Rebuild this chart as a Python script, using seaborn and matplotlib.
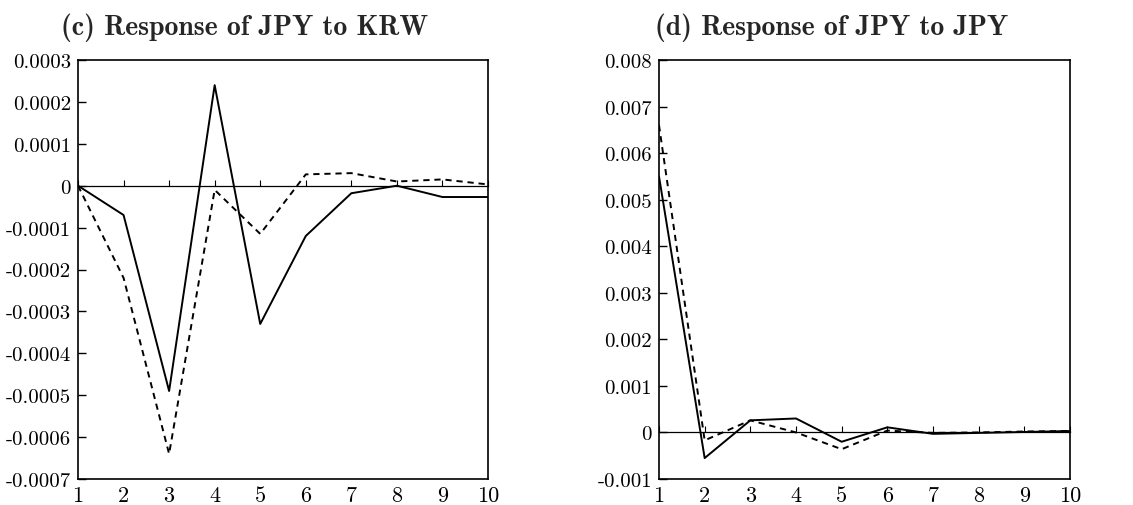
import numpy as np
import pandas as pd
import matplotlib
matplotlib.use("Agg")
import matplotlib.pyplot as plt
import matplotlib.ticker as mticker
import seaborn as sns

# ---- data ----
steps = [1, 2, 3, 4, 5, 6, 7, 8, 9, 10]

c_solid = [0.0, -0.00007, -0.00049, 0.00024, -0.00033, -0.00012, -0.000018, 0.0, -0.000027, -0.000027]
c_dashed = [0.0, -0.00022, -0.00064, -0.00001, -0.000115, 0.000027, 0.00003, 0.00001, 0.000015, 0.000003]

d_solid = [0.0055, -0.00055, 0.00026, 0.0003, -0.0002, 0.00011, -0.00003, -0.00001, 0.00001, 0.00003]
d_dashed = [0.0066, -0.00017, 0.00026, 0.0, -0.00036, 0.00004, -0.00001, 0.0, 0.00002, 0.00003]

c_title = "(c) Response of JPY to KRW"
d_title = "(d) Response of JPY to JPY"
c_yticks = [0.0003, 0.0002, 0.0001, 0.0, -0.0001, -0.0002, -0.0003, -0.0004, -0.0005, -0.0006, -0.0007]
d_yticks = [0.008, 0.007, 0.006, 0.005, 0.004, 0.003, 0.002, 0.001, 0.0, -0.001]

sns.set_theme(style="white")
plt.rcParams["font.family"] = ["cmr10", "DejaVu Serif"]
plt.rcParams["axes.unicode_minus"] = False
plt.rcParams["axes.formatter.use_mathtext"] = False

fig = plt.figure(figsize=(11.33, 5.06), dpi=100)
ax_c = fig.add_axes([78 / 1133, 1 - 480 / 506, 410 / 1133, 419 / 506])
ax_d = fig.add_axes([659 / 1133, 1 - 480 / 506, 411 / 1133, 419 / 506])


def draw(ax, solid, dashed, yticks, decimals, title, title_x):
    df = pd.DataFrame({
        "step": steps * 2,
        "value": solid + dashed,
        "series": ["solid"] * len(steps) + ["dashed"] * len(steps),
    })
    sns.lineplot(data=df, x="step", y="value", hue="series", style="series",
                 palette={"solid": "black", "dashed": "black"},
                 dashes={"solid": "", "dashed": (3.2, 2.5)},
                 linewidth=1.4, legend=False, ax=ax, zorder=3)
    ax.set_xlim(steps[0], steps[-1])
    ax.set_ylim(min(yticks), max(yticks))
    ax.set_xticks(steps)
    ax.set_yticks(yticks)
    ax.yaxis.set_major_formatter(mticker.FuncFormatter(
        lambda v, p: "0" if abs(v) < 1e-12 else f"{v:.{decimals}f}"))
    ax.set_xlabel("")
    ax.set_ylabel("")
    ax.tick_params(axis="y", direction="in", length=6, width=1, colors="black",
                   labelsize=15, pad=5, left=True)
    ax.tick_params(axis="x", length=0, labelsize=16, pad=5, colors="black")
    for sp in ax.spines.values():
        sp.set_color("black")
        sp.set_linewidth(1.2)
        sp.set_visible(True)
    # zero line with small ticks
    sec = ax.secondary_xaxis(0, transform=ax.transData)
    sec.set_xticks(steps)
    sec.tick_params(axis="x", direction="in", length=4, width=0.8, colors="black",
                    labelbottom=False, labeltop=False)
    for sp in sec.spines.values():
        sp.set_color("black")
        sp.set_linewidth(0.9)
    sec.spines["top"].set_visible(False)
    ax.text(title_x, 1.045, title, transform=ax.transAxes, ha="center", va="bottom",
            fontsize=20, family=["cmb10", "DejaVu Serif"], fontweight="bold")


draw(ax_c, c_solid, c_dashed, c_yticks, 4, c_title, 0.407)
draw(ax_d, d_solid, d_dashed, d_yticks, 3, d_title, 0.421)

fig.savefig("out.png", dpi=100, facecolor="white")
